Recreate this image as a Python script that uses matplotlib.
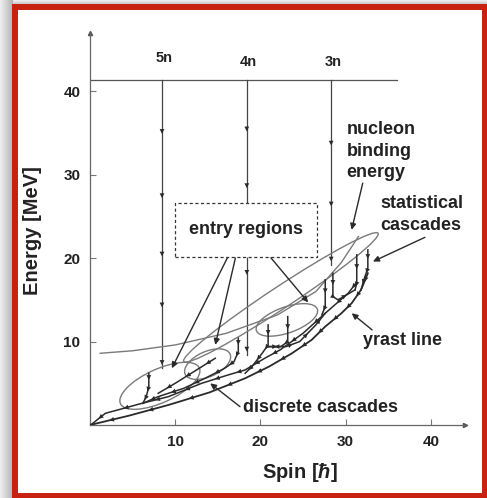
import numpy as np
import matplotlib
matplotlib.use("Agg")
import matplotlib.pyplot as plt
from matplotlib.patches import Ellipse, Rectangle

plt.rcParams["font.family"] = ["Liberation Sans", "DejaVu Sans"]
plt.rcParams["font.weight"] = "bold"
plt.rcParams["mathtext.fontset"] = "custom"
plt.rcParams["mathtext.rm"] = "Liberation Sans:bold"
plt.rcParams["mathtext.it"] = "Liberation Sans:bold:italic"

# ---- data (spin in hbar, energy in MeV) ----
x_ticks = [10, 20, 30, 40]
y_ticks = [10, 20, 30, 40]

top_level_e = 41.4
top_level_spin = [0, 36.0]

# neutron evaporation channels
chan_labels = ["5n", "4n", "3n"]
chan_spin = [8.45, 18.4, 28.3]
chan_end_e = [6.8, 8.4, 19.2]
chan_arrow_e = [[34.9, 27.2, 20.2, 14.1, 7.2],
                [35.2, 28.4, 18.0, 8.8],
                [33.5, 26.2, 19.6]]

# nucleon binding energy curve
bind_spin = [1.2, 5, 10, 16, 22, 26.5, 29.5, 31.5]
bind_e = [8.6, 8.9, 9.6, 11.0, 13.2, 16.0, 19.5, 22.6]

# entry regions (centre spin, centre E, length, width, tilt deg)
ent_spin = [8.2, 13.8, 23.1, 22.4]
ent_e = [4.7, 7.3, 12.6, 15.3]
ent_len = [10.2, 5.8, 7.6, 27.5]
ent_wid = [4.0, 3.0, 3.1, 2.6]
ent_ang = [25, 25, 20, 34]

# yrast line
yrast_spin = [0, 4.5, 9.2, 14, 18.2, 21, 23.7, 26, 27.6, 29.5, 30.7, 31.8, 32.6]
yrast_e = [0, 1.1, 2.4, 3.9, 5.6, 7.0, 8.6, 10.2, 11.8, 13.4, 14.6, 16.2, 18.2]

# discrete / statistical cascades (drawn top -> bottom)
casc = [
    ([31.2, 30.3, 27.6, 25.0, 22.3, 20.5, 18.2, 16.2, 13.1, 9.2, 6.1, 1.8, 0.2],
     [17.0, 15.8, 13.4, 11.0, 9.0, 8.0, 6.6, 6.0, 5.0, 3.4, 2.6, 1.4, 0.1]),
    ([6.9, 6.9, 6.6, 6.2], [6.2, 4.6, 3.4, 2.6]),
    ([17.4, 17.4, 16.9, 15.8, 13.5, 11.0, 8.0, 6.2], [10.4, 8.8, 7.6, 6.8, 5.6, 4.4, 3.4, 2.6]),
    ([14.7, 12.5, 10.0, 8.0], [8.0, 6.6, 5.0, 3.8]),
    ([20.9, 20.9, 20.2, 19.0, 18.2], [12.0, 9.6, 8.6, 7.0, 6.2]),
    ([23.2, 23.2, 22.4, 20.9], [13.0, 10.0, 9.4, 9.4]),
    ([20.9, 23.0, 24.6, 26.5, 27.6], [9.4, 9.4, 10.0, 12.0, 13.4]),
    ([27.6, 27.6, 27.2], [17.4, 14.2, 13.2]),
    ([28.5, 28.5, 29.1, 31.1], [18.2, 15.4, 15.0, 16.2]),
    ([31.3, 31.3, 31.1], [20.4, 17.0, 16.2]),
    ([32.6, 32.6, 32.2, 31.8], [21.0, 18.8, 17.6, 16.2]),
]

# entry-region box and its pointers
box_spin = [10.0, 26.6]
box_e = [20.2, 26.6]
box_ptr = [((16.2, 20.2), (9.6, 6.8)),
           ((17.1, 20.2), (14.7, 9.6)),
           ((21.1, 20.2), (25.6, 14.7))]

labels = [("nucleon\nbinding\nenergy", 30.1, 36.5, (32.0, 29.0), (30.7, 23.4)),
          ("statistical\ncascades", 34.1, 27.6, (39.3, 22.5), (33.2, 19.6)),
          ("yrast line", 32.0, 11.2, (33.1, 11.4), (30.7, 13.4)),
          ("discrete cascades", 17.9, 3.1, (17.6, 2.2), (14.1, 5.0))]

# ---- figure ----
W, H = 487, 498
fig = plt.figure(figsize=(W / 100, H / 100), dpi=100)

bg = fig.add_axes([0, 0, 1, 1], zorder=-3)
bg.axis("off")
img = np.full((H, W), 0.93)
c = np.arange(13)
img[:, :13] = 0.93 - 0.22 * (c / 12.0)
r = np.arange(5)
img[:5, 13:] = np.minimum(img[:5, 13:], (0.93 - 0.18 * (r / 4.0))[:, None])
bg.imshow(img, cmap="gray", vmin=0, vmax=1, aspect="auto", interpolation="bilinear")

fig.add_artist(Rectangle((15 / W, 2.5 / H), (484.5 - 15) / W, (498 - 7 - 2.5) / H,
                         transform=fig.transFigure, facecolor="white",
                         edgecolor="#c8210f", lw=4.3, zorder=-2))

ax = fig.add_axes([90 / W, 73 / H, 375 / W, 392 / H])
ax.patch.set_alpha(0)
ax.set_xlim(0, 44)
ax.set_ylim(0, 47)
for s in ["top", "right"]:
    ax.spines[s].set_visible(False)
for s in ["left", "bottom"]:
    ax.spines[s].set_color("#666666")
    ax.spines[s].set_linewidth(0.9)
ax.plot([0], [47], marker="^", ms=3, color="#555555", clip_on=False)
ax.plot([44], [0], marker=">", ms=3, color="#555555", clip_on=False)

ax.set_xticks(x_ticks)
ax.set_yticks(y_ticks)
ax.tick_params(direction="in", length=4, width=0.8, color="#777777",
               labelsize=11, labelcolor="#222222", pad=7)
for lab in ax.get_xticklabels() + ax.get_yticklabels():
    lab.set_fontweight("bold")

fig.text(33 / W, 1 - 231 / H, "Energy [MeV]", rotation=90, ha="center",
         va="center", fontsize=14.5, fontweight="bold", color="#222222")
fig.text(300 / W, 1 - 472 / H, r"Spin [$\hbar$]", ha="center", va="center",
         fontsize=14.5, fontweight="bold", color="#222222")

ink = "#2a2a2a"
grey = "#7a7a7a"


def arrow(p0, p1, color=ink, lw=1.0, head=True, z=3):
    style = "-|>,head_length=0.35,head_width=0.17" if head else "-"
    ax.annotate("", xy=p1, xytext=p0,
                arrowprops=dict(arrowstyle=style, color=color, lw=lw,
                                shrinkA=0, shrinkB=0), zorder=z)


def cascade(xs, ys):
    ax.plot(xs, ys, color=ink, lw=1.1, zorder=3)
    for i in range(len(xs) - 1):
        xm = (xs[i] + xs[i + 1]) / 2
        ym = (ys[i] + ys[i + 1]) / 2
        arrow((xs[i], ys[i]), (xm, ym), lw=0.0)


# top level and channels
ax.plot(top_level_spin, [top_level_e] * 2, color="#555555", lw=0.9)
for lab, x, e_end, marks in zip(chan_labels, chan_spin, chan_end_e, chan_arrow_e):
    ax.plot([x, x], [top_level_e, e_end], color="#444444", lw=0.9, zorder=2)
    for e in marks:
        arrow((x, e + 0.6), (x, e), lw=0.0)
    ax.text(x + 0.2, 44.0 if lab == "5n" else 43.5, lab, ha="center",
            va="center", fontsize=10.5, fontweight="bold", color="#222222")

# binding energy curve and entry regions
ax.plot(bind_spin, bind_e, color=grey, lw=1.0, zorder=2)
for cx, cy, L, w, a in zip(ent_spin, ent_e, ent_len, ent_wid, ent_ang):
    ax.add_patch(Ellipse((cx, cy), L, w, angle=a, fill=False,
                         edgecolor=grey, lw=1.0, zorder=2))

ax.plot(yrast_spin, yrast_e, color=ink, lw=1.3, zorder=3)
for i in range(len(yrast_spin) - 1):
    arrow((yrast_spin[i + 1], yrast_e[i + 1]),
          ((yrast_spin[i] + yrast_spin[i + 1]) / 2, (yrast_e[i] + yrast_e[i + 1]) / 2), lw=0.0)
for xs, ys in casc:
    cascade(xs, ys)

# box
ax.add_patch(Rectangle((box_spin[0], box_e[0]), box_spin[1] - box_spin[0],
                       box_e[1] - box_e[0], facecolor="white", edgecolor="#333333",
                       lw=0.9, ls=(0, (2.5, 2)), zorder=4))
ax.text(sum(box_spin) / 2, 23.5, "entry regions", ha="center", va="center",
        fontsize=13, fontweight="bold", color="#222222", zorder=5)
for p0, p1 in box_ptr:
    arrow(p0, p1, lw=1.0)

for txt, tx, ty, p0, p1 in labels:
    ax.text(tx, ty, txt, ha="left", va="top", fontsize=13, fontweight="bold",
            color="#222222", linespacing=1.38)
    arrow(p0, p1, lw=1.0)

fig.savefig("out.png", dpi=100)
